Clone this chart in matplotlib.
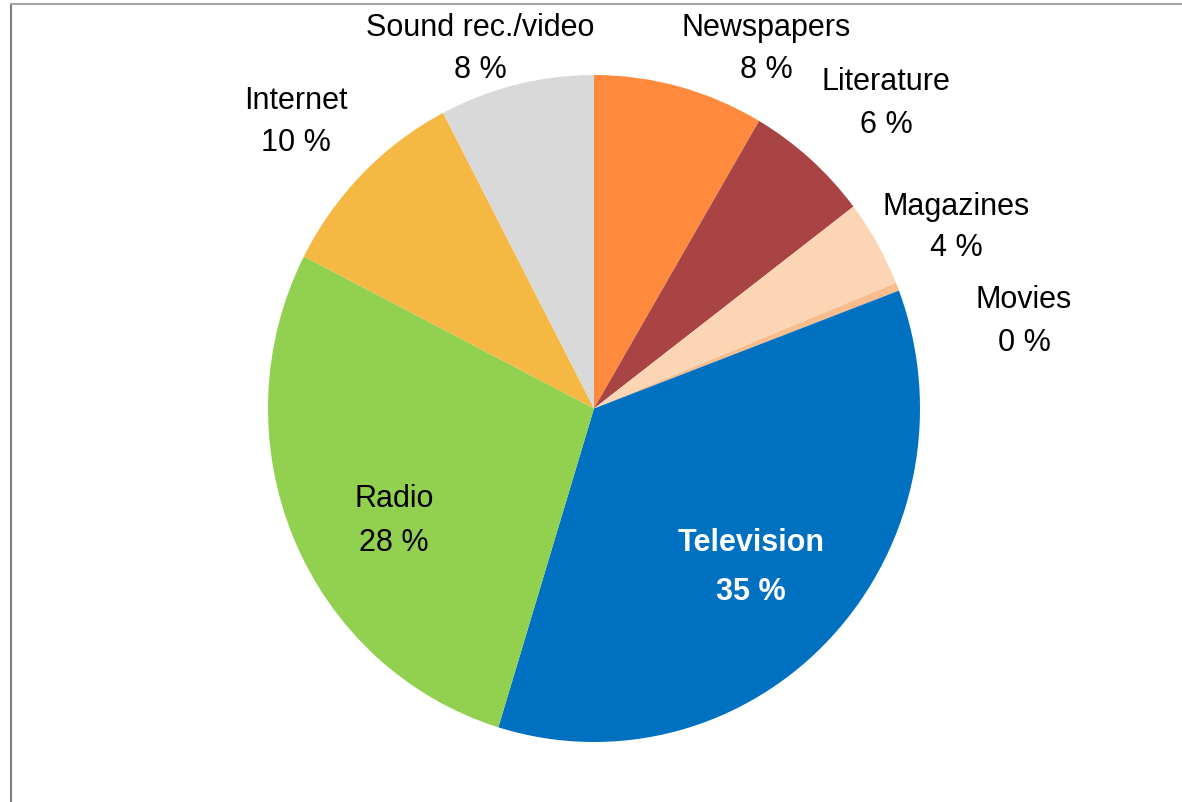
import matplotlib.pyplot as plt
from matplotlib.lines import Line2D

# Share of media use (%), clockwise from 12 o'clock
media = ["Newspapers", "Literature", "Magazines", "Movies",
         "Television", "Radio", "Internet", "Sound rec./video"]
shares = [8.45, 6.2, 4.2, 0.4, 35.49, 27.8, 9.8, 7.66]
colors = ["#FF8A3D", "#A94444", "#FCD5B5", "#F9BC8C",
          "#0070C0", "#92D050", "#F5B843", "#D9D9D9"]

# label line centres in pixels: (x, name y, percent y)
label_pos = [(766, 28, 70), (886, 82, 125), (956, 207, 248), (1024, 300, 343),
             (751, 543, 592), (394, 499, 543), (296, 101, 143), (480, 28, 70)]

W, H = 1182, 803
plt.rcParams['font.family'] = ['Liberation Sans', 'DejaVu Sans']

fig = plt.figure(figsize=(W / 100, H / 100), dpi=100)
# axes box covers the pie exactly
ax = fig.add_axes([268 / W, (H - 743) / H, 652 / W, 667 / H])
ax.pie(shares, colors=colors, startangle=90, counterclock=False,
       radius=1, wedgeprops=dict(linewidth=0))
ax.set_aspect('auto')
ax.set_xlim(-1, 1)
ax.set_ylim(-1, 1)
ax.axis('off')

for name, val, (px, py1, py2) in zip(media, shares, label_pos):
    bold = name == "Television"
    col = "white" if bold else "black"
    fw = "bold" if bold else "normal"
    fig.text(px / W, 1 - py1 / H, name, ha="center", va="center",
             fontsize=22, color=col, fontweight=fw)
    fig.text(px / W, 1 - py2 / H, f"{round(val)} %", ha="center", va="center",
             fontsize=22, color=col, fontweight=fw)

# chart frame (only top and left edges fall inside the image)
fig.add_artist(Line2D([11 / W, 11 / W], [1 - 5 / H, 0], color="#808080", lw=1.5))
fig.add_artist(Line2D([11 / W, 1], [1 - 5 / H, 1 - 5 / H], color="#a6a6a6", lw=1.5))

fig.savefig("out.png", dpi=100)
